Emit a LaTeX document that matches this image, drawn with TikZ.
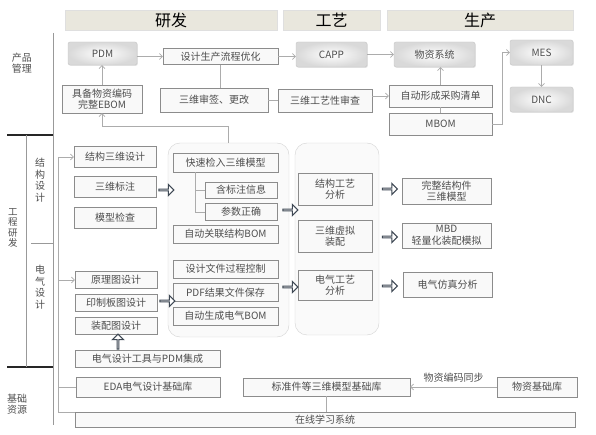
\documentclass[tikz,border=0pt]{standalone}
\usepackage{fontspec}
\setmainfont{Noto Sans CJK SC}
\usetikzlibrary{arrows.meta,positioning,shapes.arrows,shadows}

\definecolor{boxtext}{RGB}{78,78,78}
\definecolor{boxline}{RGB}{140,140,140}
\definecolor{headfill}{RGB}{233,231,221}
\definecolor{arrowblue}{RGB}{62,72,84}

\begin{document}
\begin{tikzpicture}[
      x=1pt, y=-1pt,
      mybox/.style={
         draw=boxline,
         fill=gray!5,
         text=boxtext,
         inner sep=1pt,
         align=center,
         font=\fontsize{10}{11.5}\selectfont,
         drop shadow={shadow xshift=0.8pt,shadow yshift=-0.8pt,fill=gray!45}},
      sysbox/.style={
         draw=gray!45,
         rounded corners=2pt,
         inner color=white,
         outer color=gray!30,
         text=boxtext,
         inner sep=1pt,
         font=\fontsize{10}{11.5}\selectfont,
         drop shadow={shadow xshift=0.8pt,shadow yshift=-0.8pt,fill=gray!45}},
      headbar/.style={
         fill=headfill,
         draw=gray!25,
         inner sep=0pt,
         minimum height=20pt,
         font=\fontsize{16}{17}\selectfont},
      grp/.style={
         draw=gray!35,
         fill=gray!4,
         rounded corners=12pt},
      sidelbl/.style={
         text=boxtext,
         align=center,
         font=\fontsize{10}{11.5}\selectfont},
      harrow/.style={
         single arrow,
         draw=arrowblue,
         fill=white,
         line width=1.1pt,
         inner sep=0pt,
         minimum height=15pt,
         minimum width=11pt,
         single arrow head extend=3pt},
      myline/.style={draw=gray!65, line width=0.6pt},
      myarrow/.style={myline, -{Straight Barb[length=3pt,width=6pt]}},
      frame/.style={draw=gray!80, line width=0.9pt}
      ]
      \useasboundingbox (0,0) rectangle (596,435);

      % headers
      \node[headbar, minimum width=212pt] (hdyf) at (171,20) {研发};
      \node[headbar, minimum width=97pt] (hdgy) at (331.5,20) {工艺};
      \node[headbar, minimum width=186pt] (hdsc) at (480,20) {生产};

      % left frame
      \draw[frame] (53,33) -- (53,425);
      \draw[frame, draw=black!85, line width=1.2pt] (7,135) -- (53,135);
      \draw[frame, draw=black!85, line width=1.2pt] (7,367) -- (53,367);
      \draw[frame] (26,135) -- (26,367);
      \draw[frame, line width=0.7pt] (31,243) -- (53,243);
      \node[sidelbl] (lcp) at (22,63) {产品\\管理};
      \node[sidelbl, font=\fontsize{9.5}{10.5}\selectfont] (lgc) at (13,228) {工\\程\\研\\发};
      \node[sidelbl] (ljg) at (40,180) {结\\构\\设\\计};
      \node[sidelbl] (ldq) at (40,287) {电\\气\\设\\计};
      \node[sidelbl] (ljc) at (17,404) {基础\\资源};

      % top row
      \node[sysbox, minimum width=69pt, minimum height=23pt] (pdm) at (102.5,53.5) {PDM};
      \node[mybox, minimum width=115pt, minimum height=16pt] (yh) at (220.5,56.5) {设计生产流程优化};
      \node[sysbox, minimum width=71pt, minimum height=25pt] (capp) at (331.5,54.5) {CAPP};
      \node[sysbox, minimum width=81pt, minimum height=25pt] (wzxt) at (434.5,54.5) {物资系统};
      \node[sysbox, minimum width=63pt, minimum height=25pt] (mes) at (541.5,52.5) {MES};
      \node[sysbox, minimum width=63pt, minimum height=25pt] (dnc) at (541.5,99.5) {DNC};
      \node[mybox, minimum width=80pt, minimum height=28pt] (ebom) at (102,99) {具备物资编码\\完整EBOM};
      \node[mybox, minimum width=108pt, minimum height=24pt] (sq) at (214,100) {三维审签、更改};
      \node[mybox, minimum width=94pt, minimum height=23pt] (gyx) at (325,100.5) {三维工艺性审查};
      \node[mybox, minimum width=103pt, minimum height=22pt] (cgqd) at (440.5,96) {自动形成采购清单};
      \node[mybox, minimum width=103pt, minimum height=22pt] (mbom) at (440.5,124) {MBOM};

      % groups
      \node[grp, minimum width=121pt, minimum height=194pt] (g1) at (228.5,240) {};
      \node[grp, minimum width=84pt, minimum height=192pt] (g2) at (337,239) {};

      % structure design
      \node[mybox, minimum width=82pt, minimum height=21pt] (jg3d) at (115,156.5) {结构三维设计};
      \node[mybox, minimum width=82pt, minimum height=21pt, below=9pt of jg3d] (bz) {三维标注};
      \node[mybox, minimum width=82pt, minimum height=21pt, below=9pt of bz] (jc) {模型检查};

      % electrical design
      \node[mybox, minimum width=82pt, minimum height=17pt] (yl) at (116,280) {原理图设计};
      \node[mybox, minimum width=82pt, minimum height=17pt, below=5.5pt of yl] (yz) {印制板图设计};
      \node[mybox, minimum width=82pt, minimum height=17pt, below=5.5pt of yz] (zp) {装配图设计};
      \node[mybox, minimum width=145pt, minimum height=17pt] (jcpdm) at (147.5,358.5) {电气设计工具与PDM集成};

      % group 1
      \node[mybox, minimum width=105pt, minimum height=19pt] (ks) at (225.5,162.5) {快速检入三维模型};
      \node[mybox, minimum width=72pt, minimum height=16pt] (bzxx) at (241,190) {含标注信息};
      \node[mybox, minimum width=72pt, minimum height=17pt, below=5pt of bzxx] (cs) {参数正确};
      \node[mybox, minimum width=105pt, minimum height=18pt] (bom1) at (225.5,234) {自动关联结构BOM};
      \node[mybox, minimum width=105pt, minimum height=18pt] (gc) at (225.5,269) {设计文件过程控制};
      \node[mybox, minimum width=105pt, minimum height=18pt, below=5pt of gc] (pdf) {PDF结果文件保存};
      \node[mybox, minimum width=105pt, minimum height=18pt, below=5pt of pdf] (bom2) {自动生成电气BOM};

      % group 2
      \node[mybox, minimum width=74pt, minimum height=32pt] (jggy) at (335,189) {结构工艺\\分析};
      \node[mybox, minimum width=74pt, minimum height=32pt, below=15pt of jggy] (xn) {三维虚拟\\装配};
      \node[mybox, minimum width=74pt, minimum height=30pt] (dqgy) at (335,285) {电气工艺\\分析};

      % results
      \node[mybox, minimum width=89pt, minimum height=26pt] (wz) at (446.5,191) {完整结构件\\三维模型};
      \node[mybox, minimum width=89pt, minimum height=25pt] (mbd) at (446.5,235.5) {MBD\\轻量化装配模拟};
      \node[mybox, minimum width=89pt, minimum height=25pt] (fz) at (447.5,284.5) {电气仿真分析};

      % base resources
      \node[mybox, minimum width=144pt, minimum height=20pt] (eda) at (148,387) {EDA电气设计基础库};
      \node[mybox, minimum width=167pt, minimum height=18pt] (bzj) at (326.5,387) {标准件等三维模型基础库};
      \node[mybox, minimum width=80pt, minimum height=20pt] (wzk) at (537,387) {物资基础库};
      \node[mybox, minimum width=500pt, minimum height=15pt] (zx) at (325,419.5) {在线学习系统};

      % hollow arrows
      \node[harrow] (a1) at (166,190) {};
      \node[harrow] (a2) at (167,301) {};
      \node[harrow] (a3) at (290,210) {};
      \node[harrow] (a4) at (290,287) {};
      \node[harrow] (a5) at (389.5,189) {};
      \node[harrow] (a6) at (389.5,237) {};
      \node[harrow] (a7) at (389.5,286) {};
      \node[harrow, shape border rotate=90] (a8) at (118,342) {};

      % connectors
      \draw[myarrow] (yh.west -| pdm.east) -- (yh.west);
      \draw[myarrow] (yh.east) -- (yh.east -| capp.west);
      \draw[myarrow] (capp) -- (wzxt);
      \draw[myline] (yh.south) -- (yh.south |- sq.north);
      \draw[myline] (sq.east) -- (sq.east -| gyx.west);
      \draw[myarrow] (cgqd.west -| gyx.east) -- (cgqd.west);
      \draw[myline] (mbom) -- (cgqd);
      \draw[myarrow] (cgqd.north) -- (cgqd.north |- wzxt.south);
      \draw[myarrow] (mbom.east) -- ++(10,0) |- (mes.west);
      \draw[myarrow] (mes) -- (dnc);
      \draw[myarrow] (ebom.north) -- (ebom.north |- pdm.south);
      \draw[myarrow] (g1.north) -- ++(0,-16) -| (ebom.south);

      \coordinate (tk) at ([xshift=-30.5pt]ks.south);
      \draw[myline] (tk) |- (cs.west);
      \draw[myline] (tk |- bzxx.west) -- (bzxx.west);

      \coordinate (bus) at (58,157);
      \draw[myarrow] (bus) -- (bus -| jg3d.west);
      \draw[myline] (bus) |- (zx.north west);
      \draw[myarrow] (bus |- yl.west) -- (yl.west);
      \draw[myline] (bus |- eda.west) -- (eda.west);

      \draw[myarrow] (wzk) -- node[above=1pt, sidelbl] {物资编码同步} (bzj);
      \draw[myline] (bzj.south) -- (bzj.south |- zx.north);

    \end{tikzpicture}
\end{document}
